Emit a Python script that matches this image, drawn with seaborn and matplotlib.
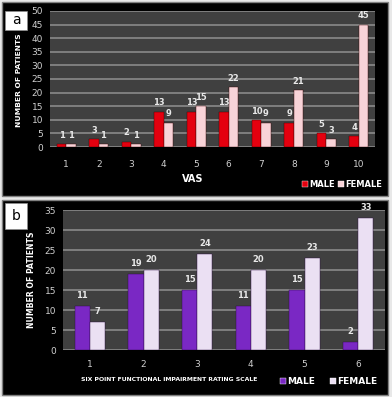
import matplotlib
matplotlib.use("Agg")
import matplotlib.pyplot as plt
import seaborn as sns
import pandas as pd
from matplotlib.patches import Rectangle

sns.set_style("dark")
plt.rcParams['font.family'] = ['DejaVu Sans']

vas_levels = ["1", "2", "3", "4", "5", "6", "7", "8", "9", "10"]
vas_male = [1, 3, 2, 13, 13, 13, 10, 9, 5, 4]
vas_female = [1, 1, 1, 9, 15, 22, 9, 21, 3, 45]

fir_levels = ["1", "2", "3", "4", "5", "6"]
fir_male = [11, 19, 15, 11, 15, 2]
fir_female = [7, 20, 24, 20, 23, 33]

genders = ["MALE", "FEMALE"]

df_a = pd.DataFrame({
    "level": vas_levels * 2,
    "count": vas_male + vas_female,
    "gender": ["MALE"] * len(vas_levels) + ["FEMALE"] * len(vas_levels),
})
df_b = pd.DataFrame({
    "level": fir_levels * 2,
    "count": fir_male + fir_female,
    "gender": ["MALE"] * len(fir_levels) + ["FEMALE"] * len(fir_levels),
})

W, H = 392, 397
fig = plt.figure(figsize=(W / 100, H / 100), dpi=100, facecolor="#e8e8e8")

def px(x0, y0, x1, y1):
    return [x0 / W, 1 - y1 / H, (x1 - x0) / W, (y1 - y0) / H]

# panel backgrounds
for (y0, y1) in [(2, 196), (200, 395)]:
    fig.patches.append(Rectangle((2 / W, 1 - y1 / H), (386 / W), (y1 - y0) / H,
                                 transform=fig.transFigure, facecolor="black",
                                 edgecolor="#808080", linewidth=1.0, zorder=-5))

def style_ax(ax, ymax, step, xpad):
    ax.set_facecolor("#404040")
    ax.set_ylim(0, ymax)
    ax.set_yticks(range(0, ymax + 1, step))
    ax.yaxis.grid(True, color="#8a8a8a", linewidth=1.2)
    ax.xaxis.grid(False)
    ax.set_axisbelow(True)
    for s in ax.spines.values():
        s.set_visible(False)
    ax.tick_params(axis="both", colors="#d0d0d0", labelsize=6.5, length=0, pad=5)
    ax.tick_params(axis="x", pad=xpad)

# Panel a
ax1 = fig.add_axes(px(50, 11, 375, 147))
sns.barplot(data=df_a, x="level", y="count", hue="gender", order=vas_levels,
            hue_order=genders, palette={"MALE": "#e4000f", "FEMALE": "#f8d3d8"},
            saturation=1, width=0.58, ax=ax1, legend=False,
            edgecolor="#3a0000", linewidth=0.3)
style_ax(ax1, 50, 5, 9)
for c in ax1.containers:
    ax1.bar_label(c, padding=3, color="#e8e8e8", fontsize=6, fontweight="bold")
ax1.set_xlabel("VAS", color="white", fontsize=7, fontweight="bold")
ax1.xaxis.set_label_coords(0.44, -0.2)
ax1.set_ylabel("NUMBER OF PATIENTS", color="white", fontsize=5.4, fontweight="bold")
ax1.yaxis.set_label_coords(-0.085, 0.49)

# Panel b
ax2 = fig.add_axes(px(63, 210, 385, 350))
sns.barplot(data=df_b, x="level", y="count", hue="gender", order=fir_levels,
            hue_order=genders, palette={"MALE": "#7a28c4", "FEMALE": "#ebe0f3"},
            saturation=1, width=0.57, ax=ax2, legend=False,
            edgecolor="#2a0a40", linewidth=0.3)
style_ax(ax2, 35, 5, 7)
for c in ax2.containers:
    ax2.bar_label(c, padding=4, color="#e8e8e8", fontsize=6, fontweight="bold")
ax2.set_xlabel("SIX POINT FUNCTIONAL IMPAIRMENT RATING SCALE", color="white",
               fontsize=4.4, fontweight="bold")
ax2.xaxis.set_label_coords(0.33, -0.19)
ax2.set_ylabel("NUMBER OF PATIENTS", color="white", fontsize=5.6, fontweight="bold")
ax2.yaxis.set_label_coords(-0.085, 0.5)

# legends
def legend_item(x, y, color, text, fs):
    fig.patches.append(Rectangle(((x - 3) / W, 1 - (y + 3) / H), 6 / W, 6 / H,
                                 transform=fig.transFigure, facecolor=color,
                                 edgecolor="#ffffff", linewidth=0.3, zorder=3))
    fig.text((x + 4) / W, 1 - y / H, text, color="white", fontsize=fs,
             fontweight="bold", va="center", ha="left")

legend_item(305, 184, "#e4000f", "MALE", 6)
legend_item(341, 184, "#f8d3d8", "FEMALE", 6)
legend_item(283, 381, "#7a28c4", "MALE", 6.5)
legend_item(333, 381, "#ebe0f3", "FEMALE", 6.5)

# panel letters
for (x0, y0, x1, y1, t) in [(5, 11, 27, 30, "a"), (5, 203, 27, 229, "b")]:
    fig.patches.append(Rectangle((x0 / W, 1 - y1 / H), (x1 - x0) / W, (y1 - y0) / H,
                                 transform=fig.transFigure, facecolor="white",
                                 edgecolor="#909090", linewidth=0.5, zorder=3))
    fig.text((x0 + x1) / 2 / W, 1 - (y0 + y1) / 2 / H, t, color="black",
             fontsize=10, ha="center", va="center", zorder=4)

fig.savefig("out.png", dpi=100, facecolor=fig.get_facecolor())
